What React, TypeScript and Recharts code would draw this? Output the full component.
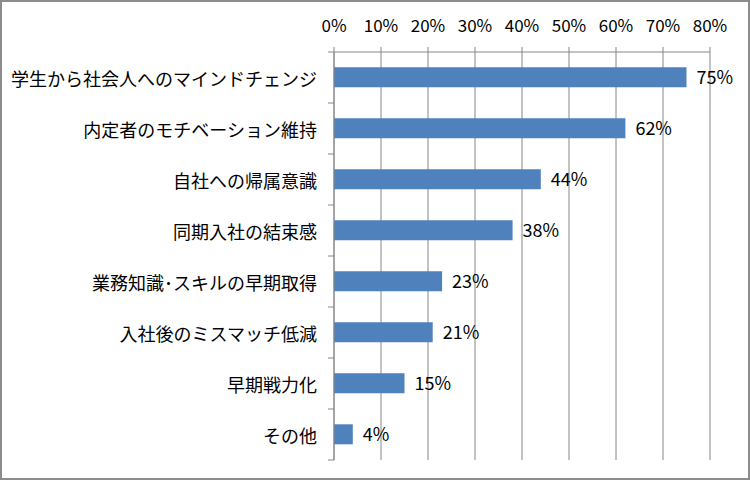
import * as React from 'react';
import { BarChart, Bar, XAxis, YAxis, CartesianGrid, LabelList } from 'recharts';

const categories = [
  '学生から社会人へのマインドチェンジ',
  '内定者のモチベーション維持',
  '自社への帰属意識',
  '同期入社の結束感',
  '業務知識･スキルの早期取得',
  '入社後のミスマッチ低減',
  '早期戦力化',
  'その他',
];
const values = [75, 62, 44, 38, 23, 21, 15, 4];
const xTicks = [0, 10, 20, 30, 40, 50, 60, 70, 80];

const data = categories.map((name, i) => ({ name, value: values[i] }));

const FONT = '"Noto Sans CJK JP", "Noto Sans", sans-serif';
const GRID = '#868686';
const BAND = (460 - 52) / categories.length;

function CategoryTick(props: any) {
  const { x, y, payload, index } = props;
  const ax = x;
  return (
    <g>
      <line x1={ax - 6} x2={ax} y1={y - BAND / 2} y2={y - BAND / 2} stroke={GRID} />
      {index === categories.length - 1 && (
        <line x1={ax - 6} x2={ax} y1={y + BAND / 2} y2={y + BAND / 2} stroke={GRID} />
      )}
      <text
        x={ax - 17}
        y={y}
        textAnchor="end"
        dominantBaseline="central"
        fill="#000"
        fontSize={18}
        fontFamily={FONT}
      >
        {payload.value}
      </text>
    </g>
  );
}

export default function App() {
  return (
    <div
      style={{
        position: 'fixed',
        left: 0,
        top: 0,
        width: 750,
        height: 480,
        background: '#fff',
        boxSizing: 'border-box',
        border: '2px solid #8c8c8c',
        fontFamily: FONT,
      }}
    >
      <div style={{ position: 'absolute', left: -2, top: -2 }}>
        <BarChart
          width={750}
          height={480}
          data={data}
          layout="vertical"
          margin={{ top: 0, right: 40, left: 0, bottom: 20 }}
          barCategoryGap="30%"
        >
          <CartesianGrid horizontal={false} stroke={GRID} />
          <XAxis
            type="number"
            orientation="top"
            height={52}
            domain={[0, 80]}
            ticks={xTicks}
            tickFormatter={(v) => `${v}%`}
            tick={{ fill: '#000', fontSize: 17, fontFamily: FONT }}
            axisLine={{ stroke: GRID }}
            tickLine={{ stroke: GRID }}
            tickSize={5}
            tickMargin={15}
            interval={0}
          />
          <YAxis
            type="category"
            dataKey="name"
            width={334}
            axisLine={{ stroke: GRID }}
            tickLine={false}
            tickSize={0}
            tickMargin={0}
            tick={<CategoryTick />}
            interval={0}
          />
          <Bar dataKey="value" fill="#4F81BD" isAnimationActive={false}>
            <LabelList
              dataKey="value"
              position="right"
              offset={10}
              formatter={(v: any) => `${v}%`}
              fill="#000"
              fontSize={18}
              fontFamily={FONT}
            />
          </Bar>
        </BarChart>
      </div>
    </div>
  );
}
